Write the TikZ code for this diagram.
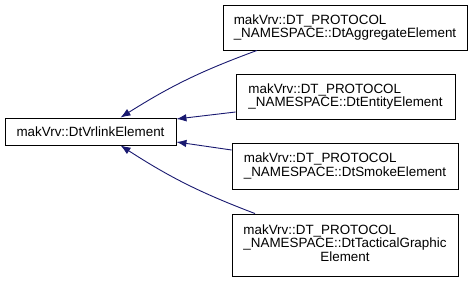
\documentclass[tikz,border=0pt]{standalone}
\usepackage{fontspec}
\setmainfont{Liberation Sans}
\usetikzlibrary{arrows.meta}
\definecolor{edgeblue}{RGB}{25,25,112}

\begin{document}
\begin{tikzpicture}[
    x=1pt, y=-1pt,
    font=\fontsize{13.4}{13.4}\selectfont,
    cls/.style={draw=black, line width=0.9pt, fill=white, align=left, inner sep=0pt,
                minimum width=#1, minimum height=45pt},
    inherit/.style={-{Latex[length=10pt,width=7.5pt]}, edgeblue, line width=0.9pt},
]
  \useasboundingbox (0,0) rectangle (472,283);
  %% base class
  \node[cls=171pt, minimum height=27pt, align=center] (base) at (90.5,131.5) {makVrv::DtVrlinkElement};
  %% derived classes
  \node[cls=244pt] (agg) at (345,27.5) {makVrv::DT\_PROTOCOL\\\_NAMESPACE::DtAggregateElement};
  \node[cls=219pt] (ent) at (345.5,96.5) {makVrv::DT\_PROTOCOL\\\_NAMESPACE::DtEntityElement};
  \node[cls=226pt, minimum height=46pt] (smoke) at (345,166) {makVrv::DT\_PROTOCOL\\\_NAMESPACE::DtSmokeElement};
  \node[cls=226pt, minimum height=62pt] (tact) at (345,245)
       {\begin{tabular}{@{}l@{}}makVrv::DT\_PROTOCOL\\\_NAMESPACE::DtTacticalGraphic\\
        \multicolumn{1}{@{}c@{}}{Element}\end{tabular}};
  %% inheritance edges
  \draw[inherit] ([xshift=-88pt]agg.south) to[bend right=6] ([xshift=30pt]base.north);
  \draw[inherit] ([yshift=-15.5pt]ent.west) -- ([yshift=12.5pt]base.east);
  \draw[inherit] ([yshift=16pt]smoke.west) -- ([yshift=-10.5pt]base.east);
  \draw[inherit] ([xshift=-90pt]tact.north) to[bend left=6] ([xshift=30pt]base.south);
\end{tikzpicture}
\end{document}
